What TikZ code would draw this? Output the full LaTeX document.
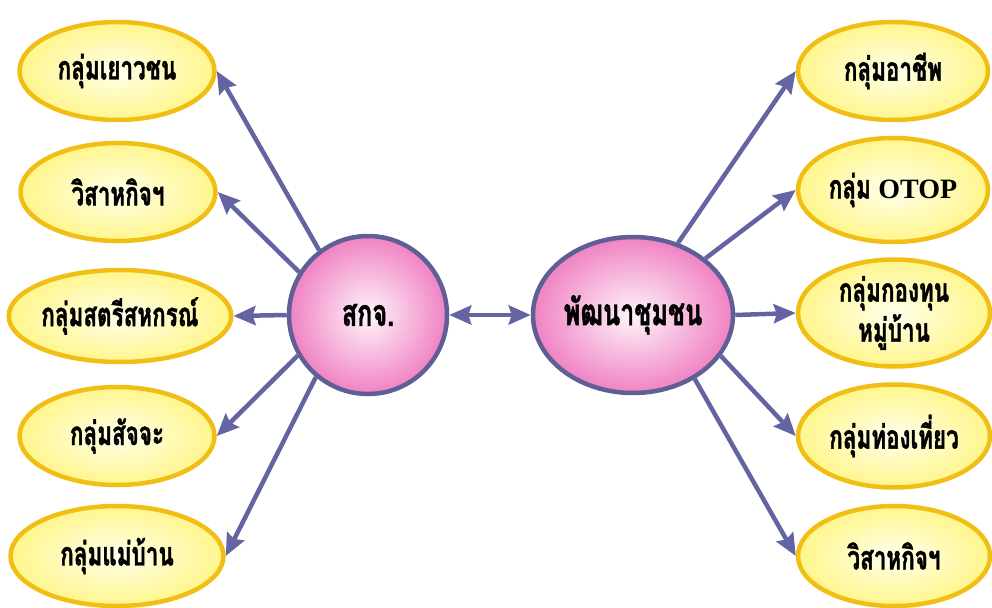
\documentclass[tikz,border=0pt]{standalone}
\usepackage{fontspec}
\newfontfamily\thaifont[Script=Thai,FakeStretch=0.68,BoldFeatures={FakeBold=1.2}]{Loma}
\newfontfamily\latinserif{Liberation Serif}
\usepackage{tikz}
\usetikzlibrary{arrows.meta,shapes.geometric}

\definecolor{goldline}{RGB}{240,190,20}
\definecolor{paleyellow}{RGB}{255,246,140}
\definecolor{hubline}{RGB}{95,95,150}
\definecolor{hubpink}{RGB}{240,130,195}
\definecolor{arrowblue}{RGB}{100,100,162}

\begin{document}
\begin{tikzpicture}[x=1pt,y=-1pt,->,>={Stealth[length=22pt,width=19pt,inset=3pt]},
		color=arrowblue]
		\tikzstyle{member}=[ellipse,draw=goldline,line width=4.5pt,shading=radial,
			inner color=yellow!8,outer color=paleyellow,inner sep=0pt,
			text=black,font=\thaifont\bfseries\fontsize{33}{40}\selectfont,align=center]
		\tikzstyle{hub}=[draw=hubline,line width=4.5pt,shading=radial,
			inner color=hubpink!8,outer color=hubpink,inner sep=0pt,
			text=black,font=\thaifont\bfseries\fontsize{37}{40}\selectfont]
		\tikzstyle{link}=[line width=4.5pt]
		\useasboundingbox (0,0) rectangle (992,607);

		% centre
		\node[hub,circle,minimum size=158pt] (sakj) at (368,315) {สกจ.};
		\node[hub,ellipse,minimum width=200pt,minimum height=156pt] (phat) at (633,315) {พัฒนาชุมชน};

		% left side
		\node[member,minimum width=195pt,minimum height=98pt] (l1) at (117,71) {กลุ่มเยาวชน};
		\node[member,minimum width=195pt,minimum height=98pt] (l2) at (118,192) {วิสาหกิจฯ};
		\node[member,minimum width=213pt,minimum height=92pt] (l3) at (120,316) {กลุ่มสตรีสหกรณ์};
		\node[member,minimum width=195pt,minimum height=98pt] (l4) at (117,436) {กลุ่มสัจจะ};
		\node[member,minimum width=213pt,minimum height=100pt] (l5) at (117,556) {กลุ่มแม่บ้าน};

		% right side
		\node[member,minimum width=190pt,minimum height=98pt] (r1) at (893,71) {กลุ่มอาชีพ};
		\node[member,minimum width=190pt,minimum height=104pt] (r2) at (893,190) {กลุ่ม {\latinserif\bfseries\fontsize{28}{30}\selectfont OTOP}};
		\node[member,minimum width=192pt,minimum height=107pt] (r3) at (894,313) {กลุ่มกองทุน\\หมู่บ้าน};
		\node[member,minimum width=192pt,minimum height=103pt] (r4) at (894,436) {กลุ่มท่องเที่ยว};
		\node[member,minimum width=192pt,minimum height=100pt] (r5) at (894,556) {วิสาหกิจฯ};

		\path
		(sakj.127) edge[link] (l1.east)
		(sakj.148) edge[link] (l2.east)
		(sakj.180) edge[link] (l3.east)
		(sakj.210) edge[link] (l4.east)
		(sakj.230) edge[link] (l5.east)
		(sakj) edge[link,<->] (phat);

		\path
		(phat.58) edge[link] (r1.west)
		(phat.38) edge[link] (r2.west)
		(phat.0) edge[link] (r3.west)
		(phat.-25) edge[link] (r4.west)
		(phat.-46) edge[link] (r5.west);
\end{tikzpicture}
\end{document}
